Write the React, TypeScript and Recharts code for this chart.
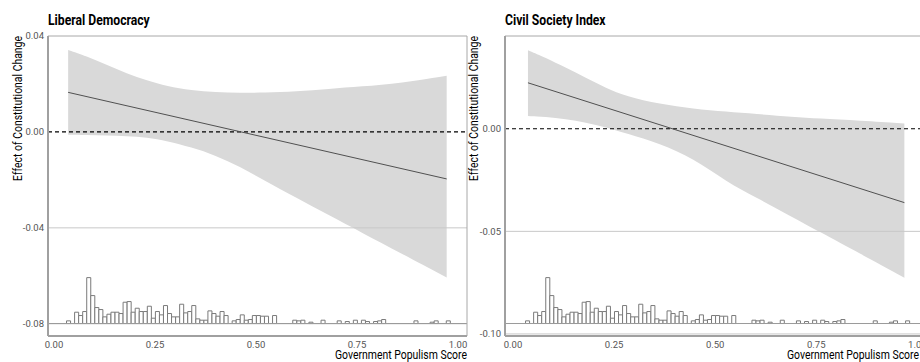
import React from 'react';
import { ComposedChart, Area, Line, XAxis, YAxis, ReferenceLine, ReferenceArea } from 'recharts';

const FONT = 'Roboto, "Noto Sans", sans-serif';

const xTicks = [0, 0.25, 0.5, 0.75, 1];

// Liberal Democracy panel
const ldBandX = [0.035, 0.08, 0.13, 0.18, 0.23, 0.28, 0.34, 0.4, 0.46, 0.52, 0.6, 0.68, 0.76, 0.86, 0.972];
const ldBandUpper = [0.0342, 0.0316, 0.028, 0.0244, 0.0214, 0.019, 0.0173, 0.0165, 0.0163, 0.0164, 0.0168, 0.018, 0.0189, 0.0204, 0.0234];
const ldBandLower = [-0.0012, -0.0013, -0.0015, -0.0018, -0.0023, -0.0038, -0.0064, -0.0098, -0.0145, -0.0202, -0.0275, -0.0347, -0.0418, -0.0507, -0.0607];
const ldLineX = [0.035, 0.972];
const ldLineY = [0.0165, -0.0196];
const ldYTicks = [-0.08, -0.04, 0, 0.04];
const ldGrid = [-0.04, -0.08];

// Civil Society Index panel
const csBandX = [0.037, 0.08, 0.13, 0.18, 0.23, 0.28, 0.363, 0.446, 0.528, 0.6, 0.693, 0.755, 0.858, 0.968];
const csBandUpper = [0.0383, 0.0347, 0.0298, 0.0249, 0.0198, 0.0158, 0.012, 0.0098, 0.0083, 0.0072, 0.0058, 0.005, 0.0039, 0.0026];
const csBandLower = [0.0062, 0.0058, 0.0047, 0.0031, 0.0008, -0.0023, -0.0071, -0.0144, -0.0258, -0.0334, -0.0433, -0.0499, -0.0608, -0.0726];
const csLineX = [0.037, 0.968];
const csLineY = [0.0224, -0.036];
const csYTicks = [-0.1, -0.05, 0];
const csGrid = [-0.05, -0.1];

// Histogram of government populism score (bins of width 0.01 starting at 0.031)
const histStart = 0.031;
const histWidth = 0.01;
const histCounts = [
  4, 0, 17, 12, 18, 69, 42, 24, 21, 10,
  14, 17, 17, 15, 32, 33, 17, 23, 18, 18,
  26, 8, 18, 13, 27, 15, 10, 10, 29, 16,
  18, 27, 7, 5, 5, 19, 15, 11, 18, 12,
  0, 4, 6, 13, 5, 6, 12, 12, 11, 11,
  0, 12, 0, 0, 0, 0, 5, 4, 5, 0,
  2, 0, 0, 5, 0, 0, 0, 4, 0, 3,
  0, 5, 0, 5, 3, 0, 3, 4, 6, 0,
  0, 0, 0, 0, 0, 0, 4, 0, 0, 0,
  2, 4, 0, 0, 4,
];
const histBaseShare = 0.0416;
const histMaxShare = 0.153;

type PanelProps = {
  left: number;
  width: number;
  marginRight: number;
  yAxisWidth: number;
  xDomain: [number, number];
  yDomain: [number, number];
  yTicks: number[];
  grid: number[];
  bandX: number[];
  bandLower: number[];
  bandUpper: number[];
  lineX: number[];
  lineY: number[];
};

function Panel(p: PanelProps) {
  const range = p.yDomain[1] - p.yDomain[0];
  const base = p.yDomain[0] + histBaseShare * range;
  const maxC = Math.max(...histCounts);
  const rows: any[] = [];
  p.bandX.forEach((x, i) => rows.push({ x, band: [p.bandLower[i], p.bandUpper[i]] }));
  p.lineX.forEach((x, i) => rows.push({ x, fit: p.lineY[i] }));
  rows.sort((a, b) => a.x - b.x);
  const bins = histCounts
    .map((c, i) => ({ x1: histStart + i * histWidth, x2: histStart + (i + 1) * histWidth, c }))
    .filter((b) => b.c > 0);
  return (
    <div style={{ position: 'absolute', left: p.left, top: 0 }}>
      <ComposedChart
        width={p.width}
        height={362}
        data={rows}
        margin={{ top: 36, right: p.marginRight, left: 0, bottom: 0 }}
      >
        <XAxis
          dataKey="x"
          type="number"
          domain={p.xDomain}
          ticks={xTicks}
          interval={0}
          allowDataOverflow
          tickFormatter={(v: number) => v.toFixed(2)}
          tick={{ fontSize: 9.5, fill: '#555', fontFamily: FONT }}
          tickLine={false}
          tickSize={0}
          tickMargin={5}
          height={26}
          axisLine={{ stroke: '#a0a0a0', strokeWidth: 2 }}
        />
        <YAxis
          type="number"
          domain={p.yDomain}
          ticks={p.yTicks}
          interval={0}
          allowDataOverflow
          tickFormatter={(v: number) => v.toFixed(2)}
          tick={{ fontSize: 9.5, fill: '#555', fontFamily: FONT }}
          tickLine={false}
          tickSize={0}
          tickMargin={4}
          width={p.yAxisWidth}
          axisLine={{ stroke: '#a0a0a0', strokeWidth: 2 }}
        />
        <Area
          dataKey="band"
          type="basis"
          stroke="none"
          fill="#d9d9d9"
          fillOpacity={1}
          connectNulls
          isAnimationActive={false}
        />
        {p.grid.map((g) => (
          <ReferenceLine key={'g' + g} y={g} stroke="#c8c8c8" strokeWidth={1} />
        ))}
        <ReferenceLine y={base} stroke="#9a9a9a" strokeWidth={1} />
        <ReferenceLine y={p.yDomain[1]} stroke="#a8a8a8" strokeWidth={1} />
        <ReferenceLine x={p.xDomain[1]} stroke="#a8a8a8" strokeWidth={1} />
        {bins.map((b, i) => (
          <ReferenceArea
            key={'h' + i}
            x1={b.x1}
            x2={b.x2}
            y1={base}
            y2={base + (b.c / maxC) * histMaxShare * range}
            fill="#ffffff"
            fillOpacity={1}
            stroke="#7a7a7a"
            strokeWidth={1}
          />
        ))}
        <ReferenceLine y={0} stroke="#000" strokeDasharray="4 3" strokeWidth={1.2} />
        <Line
          dataKey="fit"
          type="linear"
          stroke="#505050"
          strokeWidth={1}
          dot={false}
          connectNulls
          isAnimationActive={false}
        />
      </ComposedChart>
    </div>
  );
}

export default function App() {
  return (
    <div
      style={{
        position: 'absolute',
        left: 0,
        top: 0,
        width: 920,
        height: 362,
        overflow: 'hidden',
        background: '#fff',
      }}
    >
      <Panel
        left={0}
        width={470}
        marginRight={3}
        yAxisWidth={48}
        xDomain={[-0.01485, 1.0223]}
        yDomain={[-0.0851, 0.04]}
        yTicks={ldYTicks}
        grid={ldGrid}
        bandX={ldBandX}
        bandLower={ldBandLower}
        bandUpper={ldBandUpper}
        lineX={ldLineX}
        lineY={ldLineY}
      />
      <Panel
        left={460}
        width={465}
        marginRight={0}
        yAxisWidth={45}
        xDomain={[-0.0198, 1.019]}
        yDomain={[-0.101, 0.0452]}
        yTicks={csYTicks}
        grid={csGrid}
        bandX={csBandX}
        bandLower={csBandLower}
        bandUpper={csBandUpper}
        lineX={csLineX}
        lineY={csLineY}
      />
      <svg
        width={920}
        height={362}
        style={{ position: 'absolute', left: 0, top: 0, pointerEvents: 'none' }}
      >
        <g fontFamily={FONT}>
          <text transform="translate(48,25) scale(0.87,1)" fontSize={14} fontWeight={700} fill="#000">
            Liberal Democracy
          </text>
          <text transform="translate(505,25) scale(0.87,1)" fontSize={14} fontWeight={700} fill="#000">
            Civil Society Index
          </text>
          <text transform="translate(22,36) rotate(-90) scale(0.87,1)" fontSize={12} textAnchor="end" fill="#000">
            Effect of Constitutional Change
          </text>
          <text transform="translate(477.5,36) rotate(-90) scale(0.87,1)" fontSize={12} textAnchor="end" fill="#000">
            Effect of Constitutional Change
          </text>
          <text transform="translate(467,359) scale(0.87,1)" fontSize={12} textAnchor="end" fill="#000">
            Government Populism Score
          </text>
          <text transform="translate(919,359) scale(0.87,1)" fontSize={12} textAnchor="end" fill="#000">
            Government Populism Score
          </text>
        </g>
      </svg>
    </div>
  );
}
